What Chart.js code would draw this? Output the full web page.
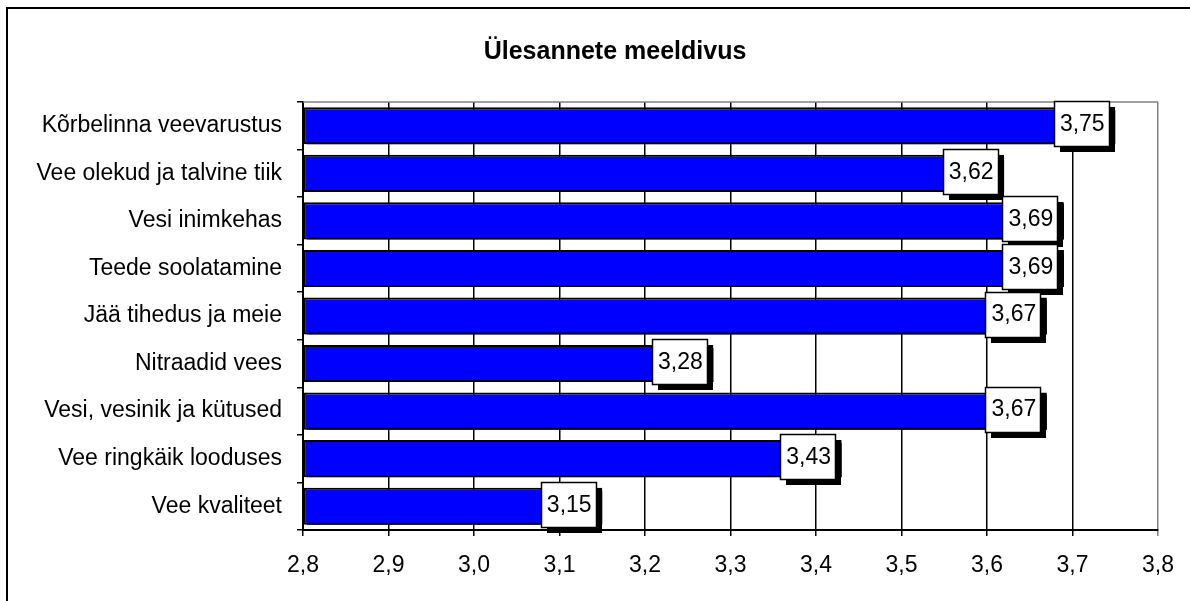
<!DOCTYPE html>
<html>
<head>
<meta charset="utf-8">
<script src="https://cdn.jsdelivr.net/npm/chart.js@4"></script>
<style>
    html, body { margin: 0; padding: 0; background: #fff; }
    #wrap { width: 1190px; height: 601px; position: relative; }
</style>
</head>
<body>
<div id="wrap"><canvas id="chart" width="1190" height="601"></canvas></div>
<script>
// Andmed
const kategooriad = [
    'Kõrbelinna veevarustus',
    'Vee olekud ja talvine tiik',
    'Vesi inimkehas',
    'Teede soolatamine',
    'Jää tihedus ja meie',
    'Nitraadid vees',
    'Vesi, vesinik ja kütused',
    'Vee ringkäik looduses',
    'Vee kvaliteet'
];
const vaartused = [3.75, 3.62, 3.69, 3.69, 3.67, 3.28, 3.67, 3.43, 3.15];
const pealkiri = 'Ülesannete meeldivus';
const xMin = 2.8;
const xMax = 3.8;
const xSamm = 0.1;

const FONT = '"Liberation Sans", Arial, sans-serif';

function koma(v, k) {
    return v.toFixed(k).replace('.', ',');
}

// Raam, pealkiri, varjud ja väärtuste sildid
const raamPlugin = {
    id: 'raam',
    beforeDraw(chart) {
        const ctx = chart.ctx;
        ctx.save();
        ctx.fillStyle = '#fff';
        ctx.fillRect(0, 0, chart.width, chart.height);
        ctx.strokeStyle = '#000';
        ctx.lineWidth = 2;
        ctx.beginPath();
        ctx.moveTo(7, chart.height);
        ctx.lineTo(7, 8);
        ctx.lineTo(chart.width, 8);
        ctx.stroke();
        ctx.fillStyle = '#000';
        ctx.font = 'bold 25px ' + FONT;
        ctx.textAlign = 'center';
        ctx.textBaseline = 'middle';
        ctx.fillText(pealkiri, 615, 52);
        ctx.restore();
    },
    beforeDatasetsDraw(chart) {
        const a = chart.chartArea;
        const ctx = chart.ctx;
        ctx.save();
        ctx.strokeStyle = '#808080';
        ctx.lineWidth = 1.5;
        ctx.beginPath();
        ctx.moveTo(a.left, a.top);
        ctx.lineTo(a.right, a.top);
        ctx.stroke();
        ctx.restore();
        // varjud tulpadele
        ctx.save();
        ctx.shadowColor = '#000';
        ctx.shadowOffsetX = 3;
        ctx.shadowOffsetY = 3;
        ctx.shadowBlur = 0;
    },
    afterDatasetsDraw(chart) {
        chart.ctx.restore();
        const ctx = chart.ctx;
        const meta = chart.getDatasetMeta(0);
        ctx.save();
        ctx.font = '23px ' + FONT;
        ctx.textAlign = 'center';
        ctx.textBaseline = 'middle';
        meta.data.forEach((bar, i) => {
            const w = 55, h = 45;
            const cx = bar.x - 34;
            const cy = bar.y - 2;
            const x0 = Math.round(cx - w / 2), y0 = Math.round(cy - h / 2);
            ctx.fillStyle = '#000';
            ctx.fillRect(x0 + 6, y0 + 6, w, h);
            ctx.fillStyle = '#fff';
            ctx.fillRect(x0, y0, w, h);
            ctx.strokeStyle = '#000';
            ctx.lineWidth = 1.5;
            ctx.strokeRect(x0 + 0.5, y0 + 0.5, w, h);
            ctx.fillStyle = '#000';
            ctx.fillText(koma(vaartused[i], 2), cx + 1, cy + 1);
        });
        ctx.restore();
    }
};

new Chart(document.getElementById('chart'), {
    type: 'bar',
    data: {
        labels: kategooriad,
        datasets: [{
            data: vaartused,
            backgroundColor: '#0000ff',
            borderColor: '#000',
            borderWidth: 2,
            borderSkipped: false,
            barPercentage: 0.78,
            categoryPercentage: 1.0,
            base: xMin
        }]
    },
    options: {
        indexAxis: 'y',
        responsive: false,
        animation: false,
        layout: { padding: { left: 0, right: 31, top: 102, bottom: 0 } },
        plugins: {
            legend: { display: false },
            tooltip: { enabled: false },
            title: { display: false }
        },
        scales: {
            x: {
                min: xMin,
                max: xMax,
                afterBuildTicks(scale) {
                    const t = [];
                    for (let i = 0; i <= Math.round((xMax - xMin) / xSamm); i++) {
                        t.push({ value: Math.round((xMin + i * xSamm) * 10) / 10 });
                    }
                    scale.ticks = t;
                },
                afterFit(scale) { scale.height = 71; },
                grid: {
                    color: ctx => (ctx.index === 10 ? '#808080' : '#000'),
                    lineWidth: 1.5,
                    tickLength: 6
                },
                border: { color: '#000', width: 2 },
                ticks: {
                    color: '#000',
                    font: { family: FONT, size: 23 },
                    padding: 16,
                    maxRotation: 0,
                    callback: v => koma(v, 1)
                }
            },
            y: {
                afterFit(scale) { scale.width = 303; },
                grid: {
                    offset: true,
                    drawOnChartArea: false,
                    color: '#000',
                    lineWidth: 1.5,
                    tickLength: 6
                },
                border: { color: '#000', width: 2 },
                ticks: {
                    color: '#000',
                    font: { family: FONT, size: 23 },
                    padding: 15
                }
            }
        }
    },
    plugins: [raamPlugin]
});
</script>
</body>
</html>
